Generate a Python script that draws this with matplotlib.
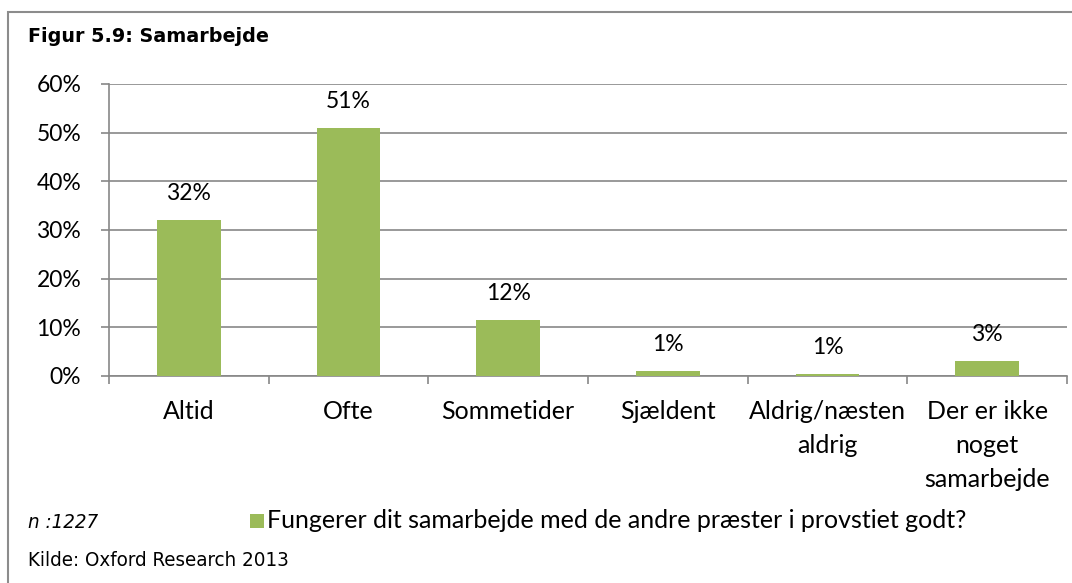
import matplotlib
matplotlib.use("Agg")
import matplotlib.pyplot as plt
from matplotlib.patches import Rectangle

categories = ["Altid", "Ofte", "Sommetider", "Sjældent", "Aldrig/næsten\naldrig",
              "Der er ikke\nnoget\nsamarbejde"]
values = [32.1, 51.0, 11.6, 1.1, 0.5, 3.1]
value_labels = ["32%", "51%", "12%", "1%", "1%", "3%"]
yticks = [0, 10, 20, 30, 40, 50, 60]
ytick_labels = ["0%", "10%", "20%", "30%", "40%", "50%", "60%"]
title = "Figur 5.9: Samarbejde"
series_name = "Fungerer dit samarbejde med de andre præster i provstiet godt?"
n_text = "n :1227"
source = "Kilde: Oxford Research 2013"

GREEN = "#9BBB59"
GRID = "#878787"
FONT = "Lato"
FS_WORD = 18
FS_NUM = 16.5

W, H = 1072, 583
fig = plt.figure(figsize=(W / 100, H / 100), dpi=100)

# figure frame
fig.patches.append(Rectangle((8 / W, -0.1), 1.2, 1 - 12 / H + 0.1, transform=fig.transFigure,
                             fill=False, edgecolor="#8c8c8c", linewidth=1.5))

ax = fig.add_axes([109 / W, 1 - 376 / H, (1067 - 109) / W, (376 - 84) / H])
x = list(range(len(categories)))
ax.bar(x, values, width=0.4, color=GREEN, zorder=3)
ax.set_xlim(-0.5, len(categories) - 0.5)
ax.set_ylim(0, 60)

ax.set_yticks(yticks)
ax.set_yticklabels(ytick_labels, fontsize=FS_NUM, fontname=FONT)
ax.yaxis.grid(True, color=GRID, linewidth=1.2, zorder=0)
ax.set_axisbelow(True)

ax.set_xticks([i - 0.5 for i in range(len(categories) + 1)])
ax.set_xticklabels([])
ax.set_xticks(x, minor=True)
ax.set_xticklabels(categories, minor=True, fontsize=FS_WORD, fontname=FONT, linespacing=1.58,
                   va="top")
ax.tick_params(axis="x", which="minor", length=0, pad=17.5)
ax.tick_params(axis="x", which="major", length=6, color=GRID, width=1.2)
ax.tick_params(axis="y", length=6, color=GRID, width=1.2, pad=14)

for s in ["top", "right"]:
    ax.spines[s].set_visible(False)
for s in ["left", "bottom"]:
    ax.spines[s].set_color(GRID)
    ax.spines[s].set_linewidth(1.2)

for xi, v, lab in zip(x, values, value_labels):
    ax.annotate(lab, (xi, v), xytext=(0, 19), textcoords="offset points",
                ha="center", va="center", fontsize=FS_NUM, fontname=FONT)

fig.text(28 / W, 1 - 36 / H, title, fontsize=13.8, fontweight="bold",
         family="DejaVu Sans", va="center", ha="left")
fig.text(28 / W, 1 - 522 / H, n_text, fontsize=14.7, style="italic", fontstretch="condensed",
         family="DejaVu Sans", va="center", ha="left")
fig.text(28 / W, 1 - 561 / H, source, fontsize=14.7, fontstretch="condensed",
         family="DejaVu Sans", va="center", ha="left")

# legend
fig.patches.append(Rectangle((250 / W, 1 - 528 / H), 14 / W, 14 / H, transform=fig.transFigure,
                             facecolor=GREEN, edgecolor="none"))
fig.text(267 / W, 1 - 521 / H, series_name, fontsize=FS_WORD, fontname=FONT,
         va="center", ha="left")

fig.savefig("out.png", dpi=100)
